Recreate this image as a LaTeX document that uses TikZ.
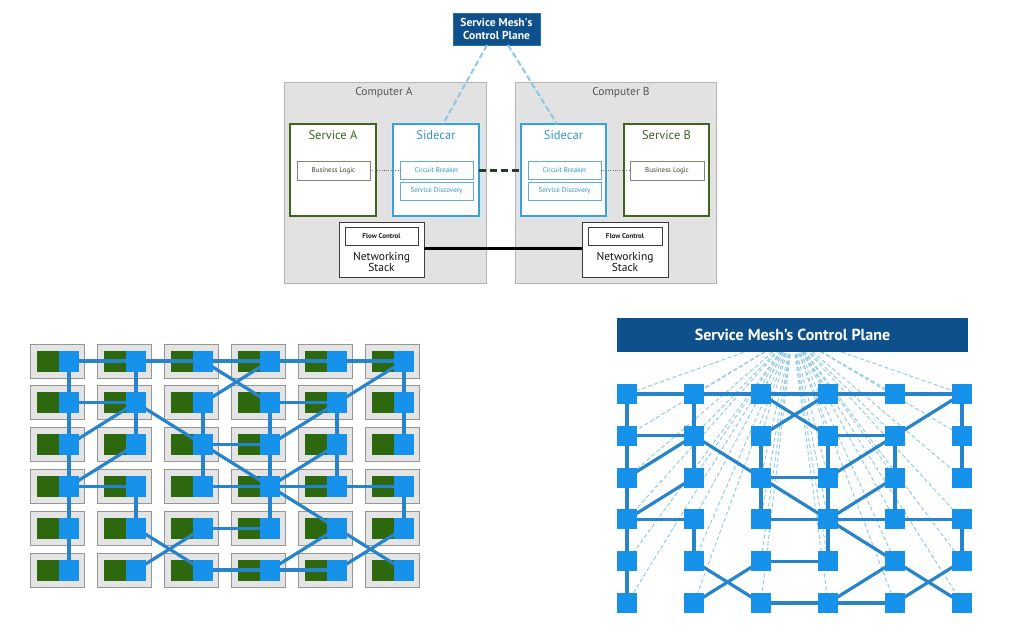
\documentclass[tikz,border=0pt]{standalone}
\usepackage{fontspec}
\setmainfont{PT Sans}
\usetikzlibrary{calc}
\definecolor{cpblue}{RGB}{14,80,140}
\definecolor{compfill}{RGB}{226,226,226}
\definecolor{compdraw}{RGB}{180,180,180}
\definecolor{svcgreen}{RGB}{62,100,32}
\definecolor{scblue}{RGB}{64,160,208}
\definecolor{scglow}{RGB}{205,235,248}
\definecolor{sctext}{RGB}{50,150,200}
\definecolor{nodeblue}{RGB}{22,146,235}
\definecolor{edgeblue}{RGB}{38,132,205}
\definecolor{cellfill}{RGB}{228,228,228}
\definecolor{celldraw}{RGB}{150,150,150}
\definecolor{leafgreen}{RGB}{45,104,15}
\definecolor{cpdashc}{RGB}{140,200,228}
\definecolor{linkdark}{RGB}{40,58,40}
\tikzset{
  box/.style={inner sep=0pt, outer sep=0pt},
  comp/.style={box, draw=compdraw, fill=compfill, line width=0.8pt},
  svc/.style={box, draw=svcgreen, fill=white, line width=1.2pt},
  sidecar/.style={box, draw=scblue, fill=white, line width=1.1pt,
    preaction={draw=scglow, line width=4pt}},
  inbox/.style={box, draw={rgb,255:red,125;green,135;blue,115}, fill=white, line width=0.7pt,
    font=\fontsize{7}{8}\selectfont, text={rgb,255:red,60;green,70;blue,50}},
  scinbox/.style={box, draw={rgb,255:red,100;green,170;blue,210}, fill=white, line width=0.7pt,
    font=\fontsize{7}{8}\selectfont, text=sctext},
  nsbox/.style={box, draw={rgb,255:red,60;green,60;blue,60}, fill=white, line width=1pt},
  fcbox/.style={box, draw={rgb,255:red,60;green,60;blue,60}, fill=white, line width=0.8pt,
    font=\bfseries\fontsize{7}{8}\selectfont, text={rgb,255:red,30;green,30;blue,30}},
  cpbox/.style={box, fill=cpblue, draw={rgb,255:red,40;green,110;blue,170}, line width=0.6pt,
    text=white, font=\bfseries\fontsize{11.5}{13}\selectfont, align=center},
  complbl/.style={font=\fontsize{11.5}{13}\selectfont, text={rgb,255:red,85;green,85;blue,85}},
  svclbl/.style={font=\fontsize{12.5}{13}\selectfont, text=svcgreen},
  sclbl/.style={font=\fontsize{12.5}{13}\selectfont, text=sctext},
  nslbl/.style={font=\fontsize{11.5}{13}\selectfont, text={rgb,255:red,20;green,20;blue,20}, align=center},
  cplink/.style={draw=cpdashc, line width=2pt, dash pattern=on 6pt off 3pt},
  dotlink/.style={draw={rgb,255:red,110;green,110;blue,110}, line width=0.8pt, dash pattern=on 1pt off 1.3pt},
  sclink/.style={draw=linkdark, line width=3pt, dash pattern=on 7pt off 4pt},
  nslink/.style={draw=black, line width=3pt},
  cellbox/.style={box, fill=cellfill, draw=celldraw, line width=0.7pt, minimum width=54pt, minimum height=34pt},
  grnsq/.style={box, fill=leafgreen, minimum width=22pt, minimum height=21pt},
  ghostL/.style={box, minimum width=20pt, minimum height=21pt},
  ghostR/.style={box, minimum size=20pt},
  bsqL/.style={box, fill=nodeblue, minimum width=20pt, minimum height=21pt},
  bsqR/.style={box, fill=nodeblue, minimum size=20pt},
  meshedge/.style={draw=edgeblue, line width=3.2pt},
  fandash/.style={draw=cpdashc, line width=0.9pt, dash pattern=on 4pt off 2.5pt},
  banner/.style={box, fill=cpblue, text=white, font=\bfseries\fontsize{16}{18}\selectfont,
    minimum width=351pt, minimum height=34pt},
}
\begin{document}
\begin{tikzpicture}[x=1pt,y=-1pt]
\useasboundingbox (0,0) rectangle (1021,641);
\fill[white] (0,0) rectangle (1021,641);

% ---------- top diagram ----------
\node[comp, minimum width=202pt, minimum height=201pt] (compA) at (385,182.5) {};
\node[comp, minimum width=201pt, minimum height=201pt] (compB) at (615.5,182.5) {};
\node[complbl] (compAl) at (384,93) {Computer A};
\node[complbl] (compBl) at (621,93) {Computer B};

\node[svc, minimum width=86pt, minimum height=92pt] (svcA) at (333,170) {};
\node[svclbl] (svcAl) at (333,135.5) {Service A};
\node[inbox, minimum width=73pt, minimum height=19pt] (blA) at (333.5,170.5) {Business Logic};

\node[sidecar, minimum width=86pt, minimum height=92pt] (scA) at (436,170) {};
\node[sclbl] (scAl) at (436,135.5) {Sidecar};
\node[scinbox, minimum width=73pt, minimum height=18pt] (cbA) at (436.5,170) {Circuit Breaker};
\node[scinbox, minimum width=73pt, minimum height=18pt] (sdA) at (436.5,191) {Service Discovery};

\node[sidecar, minimum width=85pt, minimum height=92pt] (scB) at (563.5,170) {};
\node[sclbl] (scBl) at (563.5,135.5) {Sidecar};
\node[scinbox, minimum width=73pt, minimum height=18pt] (cbB) at (564.5,170) {Circuit Breaker};
\node[scinbox, minimum width=73pt, minimum height=18pt] (sdB) at (564.5,191) {Service Discovery};

\node[svc, minimum width=85pt, minimum height=92pt] (svcB) at (666.5,170) {};
\node[svclbl] (svcBl) at (666.5,135.5) {Service B};
\node[inbox, minimum width=74pt, minimum height=19pt] (blB) at (667,170.5) {Business Logic};

\node[nsbox, minimum width=85pt, minimum height=55pt] (nsA) at (381.5,249.5) {};
\node[fcbox, minimum width=73pt, minimum height=18pt] (fcA) at (381.5,236) {Flow Control};
\node[nslbl] (nsAl) at (381.5,262) {Networking\\[-2pt]Stack};

\node[nsbox, minimum width=86pt, minimum height=55pt] (nsB) at (625,249.5) {};
\node[fcbox, minimum width=74pt, minimum height=18pt] (fcB) at (625,236.5) {Flow Control};
\node[nslbl] (nsBl) at (625,262) {Networking\\[-2pt]Stack};

\node[cpbox, minimum width=87pt, minimum height=32pt] (cp) at (496.5,29)
  {Service Mesh\textquotesingle s\\Control Plane};

\draw[cplink] ([xshift=-9.5pt]cp.south) -- ([xshift=7pt]scA.north);
\draw[cplink] ([xshift=11.5pt]cp.south) -- ([xshift=-6.5pt]scB.north);
\draw[dotlink] (blA.east) -- (blA.east -| cbA.west);
\draw[dotlink] (cbB.east) -- (cbB.east -| blB.west);
\draw[sclink] (scA.east |- cbA.east) -- (scB.west |- cbB.west);
\draw[nslink] (nsA.east |- 0,248) -- (nsB.west |- 0,248);

% ---------- bottom-left mesh: cells ----------
\foreach \r in {0,...,5}{
  \foreach \c in {0,...,5}{
    \pgfmathsetmacro\cx{69+67*\c}
    \pgfmathsetmacro\cy{361+41.8*\r}
    \node[cellbox] (C-\r\c) at (\cx-12,\cy) {};
    \node[grnsq] (G-\r\c) at (\cx-21,\cy) {};
    \node[ghostL] (L-\r\c) at (\cx,\cy) {};
  }
}

% ---------- bottom-right mesh: fan of dashed links ----------
\coordinate (focus) at (792.5,335);
\foreach \r in {0,...,5}{
  \foreach \c in {0,...,5}{
    \pgfmathsetmacro\cx{627+67*\c}
    \pgfmathsetmacro\cy{394+41.8*\r}
    \node[ghostR] (R-\r\c) at (\cx,\cy) {};
    \draw[fandash] (focus) -- (R-\r\c.center);
  }
}
\node[banner] (cp2) at (focus) {Service Mesh’s Control Plane};

% ---------- mesh edges ----------
\foreach \a/\b in {00/01,01/02,02/03,03/04,04/05,
  00/10,01/11,02/13,03/12,05/14,05/15,
  10/11,13/14,
  10/20,11/20,11/21,11/22,12/22,13/23,14/23,14/24,15/25,
  22/23,
  20/30,21/30,22/32,22/33,23/33,24/33,24/34,
  30/31,32/33,33/34,34/35,
  30/40,31/41,33/43,33/44,35/45,
  42/43,
  40/50,41/52,42/51,44/53,44/55,45/54,
  52/53,53/54}{
  \draw[meshedge] (L-\a.center) -- (L-\b.center);
  \draw[meshedge] (R-\a.center) -- (R-\b.center);
}

% ---------- blue squares on top ----------
\foreach \r in {0,...,5}{
  \foreach \c in {0,...,5}{
    \node[bsqL] (LB-\r\c) at (L-\r\c) {};
    \node[bsqR] (RB-\r\c) at (R-\r\c) {};
  }
}
\end{tikzpicture}
\end{document}
